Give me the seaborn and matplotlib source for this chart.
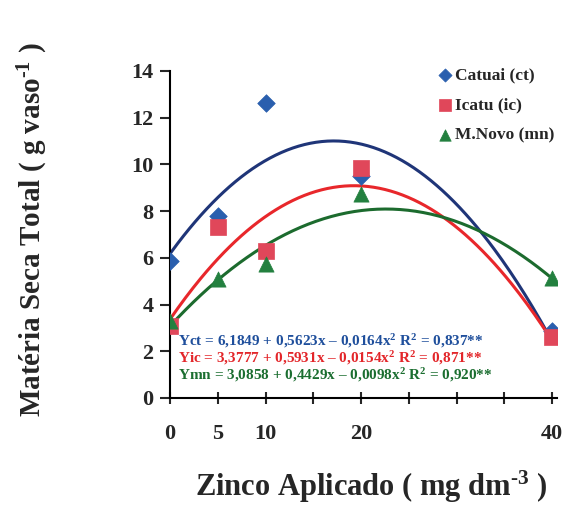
import numpy as np
import pandas as pd
import matplotlib
matplotlib.use("Agg")
import matplotlib.pyplot as plt
import seaborn as sns

# ---- data ----
zinc = [0, 5, 10, 20, 40]
catuai = [5.86, 7.78, 12.64, 9.50, 2.85]
icatu = [3.08, 7.30, 6.30, 9.83, 2.61]
mnovo = [3.30, 5.08, 5.72, 8.72, 5.15]

series_names = ["Catuai (ct)", "Icatu (ic)", "M.Novo (mn)"]
# regression coefficients printed on the chart (b0, b1, b2)
coef_ct = [6.1849, 0.5623, -0.0164]
coef_ic = [3.3777, 0.5931, -0.0154]
coef_mn = [3.0858, 0.4429, -0.0098]
equations = [
    "Yct = 6,1849 + 0,5623x – 0,0164x$^2$ R$^2$ = 0,837**",
    "Yic = 3,3777 + 0,5931x – 0,0154x$^2$ R$^2$ = 0,871**",
    "Ymn = 3,0858 + 0,4429x – 0,0098x$^2$ R$^2$ = 0,920**",
]
x_ticklabels = ["0", "5", "10", "", "20", "", "", "", "40"]
y_ticks = [0, 2, 4, 6, 8, 10, 12, 14]

# ---- styling ----
sns.set_style("white")
plt.rcParams["font.family"] = ["Liberation Serif", "DejaVu Serif"]
plt.rcParams["font.weight"] = "bold"
plt.rcParams["mathtext.fontset"] = "custom"
plt.rcParams["mathtext.rm"] = "Liberation Serif:bold"
plt.rcParams["mathtext.it"] = "Liberation Serif:bold"
plt.rcParams["mathtext.bf"] = "Liberation Serif:bold"

marker_colors = ["#2a5fae", "#e0475a", "#23803f"]
line_colors = ["#1f3578", "#e8272b", "#1c6b2e"]
text_colors = ["#1f4f9c", "#e3262a", "#1b6e30"]
markers = ["D", "s", "^"]
msizes = [80, 120, 120]

fig = plt.figure(figsize=(5.71, 5.07), dpi=100)
ax = fig.add_axes([0.298, 0.215, 0.677, 0.645])

pts = pd.DataFrame({
    "zinc": zinc * 3,
    "value": catuai + icatu + mnovo,
    "cultivar": [n for n in series_names for _ in zinc],
})

xs = np.linspace(0, 40, 200)
curves = []
for name, c in zip(series_names, [coef_ct, coef_ic, coef_mn]):
    curves.append(pd.DataFrame({"x": xs, "y": c[0] + c[1] * xs + c[2] * xs ** 2, "cultivar": name}))
curves = pd.concat(curves, ignore_index=True)

sns.lineplot(data=curves, x="x", y="y", hue="cultivar", palette=line_colors,
             hue_order=series_names, linewidth=2.2, legend=False, ax=ax, zorder=2)

for name, mk, col, ms in zip(series_names, markers, marker_colors, msizes):
    sub = pts[pts["cultivar"] == name]
    sns.scatterplot(data=sub, x="zinc", y="value", marker=mk, color=col, s=ms,
                    edgecolor=col, linewidth=0.5, ax=ax, zorder=3, label=name)

ax.set_xlim(0, 40.5)
ax.set_ylim(0, 14)
ax.set_xticks(np.arange(0, 41, 5))
ax.set_xticklabels(x_ticklabels)
ax.set_yticks(y_ticks)
ax.tick_params(axis="x", direction="inout", length=8, width=1.5, labelsize=16, pad=15)
ax.tick_params(axis="y", direction="out", length=7, width=1.5, labelsize=16, pad=5)
ax.tick_params(axis="x", bottom=True)
ax.tick_params(axis="y", left=True)
for lab in ax.get_xticklabels() + ax.get_yticklabels():
    lab.set_fontweight("bold")

for s in ["top", "right"]:
    ax.spines[s].set_visible(False)
for s in ["left", "bottom"]:
    ax.spines[s].set_linewidth(1.5)
    ax.spines[s].set_color("black")

ax.set_xlabel("Zinco Aplicado ( mg dm$^{\\text{-}3}$ )", fontsize=22, fontweight="bold")
ax.xaxis.set_label_coords(0.52, -0.215)
ax.set_ylabel("Matéria Seca Total ( g vaso$^{\\text{-}1}$ )", fontsize=21, fontweight="bold")
ax.yaxis.set_label_coords(-0.31, 0.515)

leg = ax.legend(loc="upper right", bbox_to_anchor=(1.035, 1.06), frameon=False,
                prop={"family": "Liberation Serif", "weight": "bold", "size": 12.5},
                handletextpad=0.1, labelspacing=0.8, handlelength=1.0, markerscale=0.75)

for i, (eq, tc) in enumerate(zip(equations, text_colors)):
    ax.text(0.02, 0.174 - i * 0.052, eq, transform=ax.transAxes, color=tc,
            fontsize=11, fontweight="bold", ha="left", va="center")

fig.savefig("out.png", dpi=100)
